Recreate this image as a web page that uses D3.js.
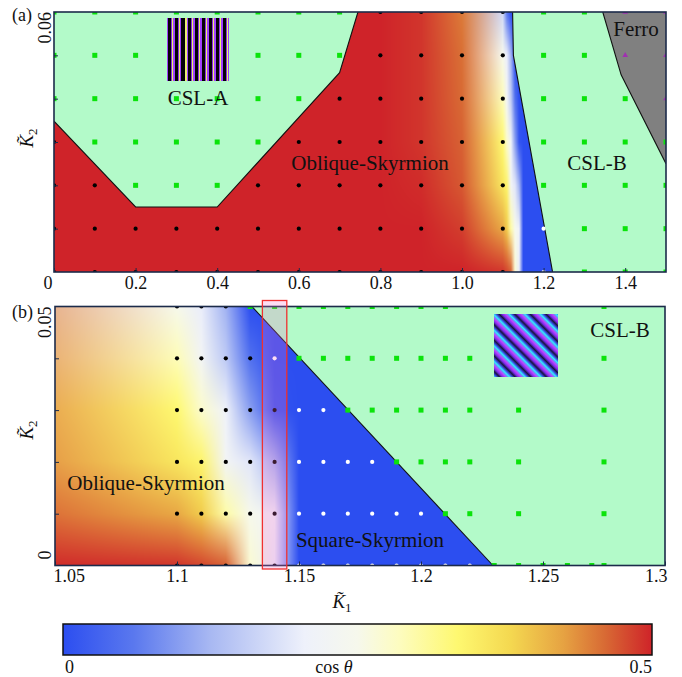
<!DOCTYPE html>
<html>
<head>
<meta charset="utf-8">
<script src="https://cdn.jsdelivr.net/npm/d3@7"></script>
<style>
body { margin: 0; background: #fff; }
svg { display: block; font-family: "Liberation Serif", "Times New Roman", serif; }
</style>
</head>
<body>
<svg id="chart" width="682" height="677"></svg>
<script>
// ---------- data ----------
// cos(theta) of the skyrmion phases on a (K1, K2) grid, rows follow fieldK2
var fieldK1 = [0, 0.7, 0.8, 0.9, 1.0, 1.1, 1.11, 1.12, 1.13, 1.14, 1.15, 1.5]
var fieldK2 = [0, 0.01, 0.02, 0.03, 0.04, 0.05, 0.06]
var fieldCos = [
    [0.5, 0.5, 0.5, 0.5,  0.5,   0.49,  0.48,  0.465, 0.27, 0.2,  0, 0],
    [0.5, 0.5, 0.5, 0.5,  0.485, 0.42,  0.39,  0.3,   0.25, 0.21, 0, 0],
    [0.5, 0.5, 0.5, 0.495, 0.47, 0.36,  0.34,  0.225, 0.19, 0.12, 0, 0],
    [0.5, 0.5, 0.5, 0.49, 0.465, 0.335, 0.275, 0.21,  0.1,  0.01, 0, 0],
    [0.5, 0.5, 0.5, 0.49, 0.46,  0.29,  0.225, 0.15,  0.05, 0,    0, 0],
    [0.5, 0.5, 0.5, 0.49, 0.457, 0.25,  0.2,   0.12,  0,    0,    0, 0],
    [0.5, 0.5, 0.5, 0.49, 0.45,  0.17,  0.06,  0,     0,    0,    0, 0]
]

// phase boundaries
var cslA = [[0, 0.06], [0, 0.0348], [0.2, 0.015], [0.4, 0.015], [0.7, 0.046], [0.745, 0.06]]
var cslBa = [[1.124, 0.06], [1.126, 0.05], [1.222, 0], [1.5, 0], [1.5, 0.06]]
var ferro = [[1.345, 0.06], [1.39, 0.0455], [1.5, 0.025], [1.5, 0.06]]
var cslBb = [[1.1307, 0.05], [1.2295, 0], [1.3, 0], [1.3, 0.05]]

// simulated points: O oblique-skyrmion, S square-skyrmion, G CSL, F ferro, . none
var aK1 = [0, 0.1, 0.2, 0.3, 0.4, 0.5, 0.6, 0.7, 0.8, 0.9, 1.0, 1.1, 1.2, 1.3, 1.4, 1.5]
var aK2 = [0.06, 0.05, 0.04, 0.03, 0.02, 0.01, 0]
var aPhase = [
    "GGGGGGGGOOOOGGFF",
    "GGGGGGGGOOOOGGFF",
    "GGGGGGGOOOOOGGGF",
    "OGGGGGOOOOOOGGGG",
    "OOGGGOOOOOOOGGGG",
    "OOOOOOOOOOOOSGGG",
    "OOOOOOOOOOOOSGGG"
]
var bK1 = [1.10, 1.11, 1.12, 1.13, 1.14, 1.15, 1.16, 1.17, 1.18, 1.19, 1.20, 1.21, 1.22, 1.23, 1.24, 1.25, 1.26, 1.27, 1.275]
var bK2 = [0.05, 0.04, 0.03, 0.02, 0.01, 0]
var bPhase = [
    "OOOGGGGGGGGG......G",
    "OOOOSGGGGGGGG.....G",
    "OOOOOSSGGGGGG.G...G",
    "OOOOOSSSSGGGG.G...G",
    "OOOOOSSSSSSGG.G...G",
    "OOOOOSSSSSSSSGGGGGG"
]

var aTicks = [0, 0.2, 0.4, 0.6, 0.8, 1.0, 1.2, 1.4]
var bTicks = [1.05, 1.1, 1.15, 1.2, 1.25, 1.3]
var highlight = [1.135, 1.145]

// colour map of cos(theta)
var cmapStops = [0, 0.06, 0.125, 0.205, 0.25, 0.285, 0.335, 0.38, 0.425, 0.46, 0.5]
var cmapColors = ["#2c4ef0", "#5a78ee", "#a8b8f2", "#eef1fb", "#f6f8ec", "#fdfcc0",
                  "#fef870", "#f4d850", "#e6a242", "#d86a34", "#cf2329"]

// ---------- setup ----------
var svg = d3.select("#chart")
var defs = svg.append("defs")
var cmap = d3.scaleLinear().domain(cmapStops).range(cmapColors).interpolate(d3.interpolateRgb).clamp(true)
var green = "#b3fac9"
var frameColor = "#1c2b4a"

var xA = d3.scaleLinear().domain([0, 1.5]).range([54, 666])
var yA = d3.scaleLinear().domain([0, 0.06]).range([272, 12])
var xB = d3.scaleLinear().domain([1.05, 1.3]).range([55, 665])
var yB = d3.scaleLinear().domain([0, 0.05]).range([565.5, 306.5])

function paintField(g, xs, ys) {
    var x0 = xs.range()[0], yTop = ys.range()[1]
    var w = Math.round(xs.range()[1] - x0), h = Math.round(ys.range()[0] - yTop)
    var canvas = document.createElement("canvas")
    canvas.width = w
    canvas.height = h
    var ctx = canvas.getContext("2d")
    var img = ctx.createImageData(w, h)
    var nodes = fieldCos.map(function(row){ return row.map(function(v){ return d3.rgb(cmap(v)) }) })
    var ch = ["r", "g", "b"]
    for (var py = 0; py < h; py++) {
        var k2 = ys.invert(yTop + py + 0.5)
        var j = Math.max(0, Math.min(fieldK2.length - 2, d3.bisectRight(fieldK2, k2) - 1))
        var fy = Math.max(0, Math.min(1, (k2 - fieldK2[j]) / (fieldK2[j + 1] - fieldK2[j])))
        for (var px = 0; px < w; px++) {
            var k1 = xs.invert(x0 + px + 0.5)
            var i = Math.max(0, Math.min(fieldK1.length - 2, d3.bisectRight(fieldK1, k1) - 1))
            var fx = Math.max(0, Math.min(1, (k1 - fieldK1[i]) / (fieldK1[i + 1] - fieldK1[i])))
            var c00 = nodes[j][i], c10 = nodes[j][i + 1], c01 = nodes[j + 1][i], c11 = nodes[j + 1][i + 1]
            var o = (py * w + px) * 4
            for (var c = 0; c < 3; c++) {
                var a = c00[ch[c]] * (1 - fx) + c10[ch[c]] * fx
                var b = c01[ch[c]] * (1 - fx) + c11[ch[c]] * fx
                img.data[o + c] = a * (1 - fy) + b * fy
            }
            img.data[o + 3] = 255
        }
    }
    ctx.putImageData(img, 0, 0)
    g.append("image")
        .attr("x", x0).attr("y", yTop)
        .attr("width", w).attr("height", h)
        .attr("preserveAspectRatio", "none")
        .attr("href", canvas.toDataURL())
}

function drawRegion(g, xs, ys, poly, fill, edge) {
    var line = d3.line().x(function(d){ return xs(d[0]) }).y(function(d){ return ys(d[1]) })
    g.append("path").attr("d", line(poly) + "Z").attr("fill", fill)
    g.append("path").attr("d", line(edge)).attr("fill", "none")
        .attr("stroke", "#111").attr("stroke-width", 1.1)
}

function drawPoints(g, xs, ys, cols, rows, phases) {
    var pts = []
    phases.forEach(function(s, r){
        s.split("").forEach(function(p, c){
            if (p != ".") pts.push({k1: cols[c], k2: rows[r], p: p})
        })
    })
    g.selectAll("rect.csl").data(pts.filter(function(d){ return d.p == "G" }))
        .enter().append("rect")
        .attr("x", function(d){ return xs(d.k1) - 2.5 })
        .attr("y", function(d){ return ys(d.k2) - 2.5 })
        .attr("width", 5).attr("height", 5)
        .attr("fill", "#0be30b")
    g.selectAll("circle.sk").data(pts.filter(function(d){ return d.p == "O" || d.p == "S" }))
        .enter().append("circle")
        .attr("cx", function(d){ return xs(d.k1) })
        .attr("cy", function(d){ return ys(d.k2) })
        .attr("r", 2.1)
        .attr("fill", function(d){ return d.p == "O" ? "#000" : "#fff" })
    g.selectAll("path.fm").data(pts.filter(function(d){ return d.p == "F" }))
        .enter().append("path")
        .attr("d", d3.symbol(d3.symbolTriangle, 14))
        .attr("transform", function(d){ return "translate(" + xs(d.k1) + "," + ys(d.k2) + ")" })
        .attr("fill", "#a030b0")
}

function panel(id, xs, ys) {
    var x0 = xs.range()[0], x1 = xs.range()[1], yt = ys.range()[1], yb = ys.range()[0]
    defs.append("clipPath").attr("id", id).append("rect")
        .attr("x", x0).attr("y", yt).attr("width", x1 - x0).attr("height", yb - yt)
    var g = svg.append("g")
    var inner = g.append("g").attr("clip-path", "url(#" + id + ")")
    return {g: g, inner: inner}
}

function frame(g, xs, ys) {
    var x0 = xs.range()[0], x1 = xs.range()[1], yt = ys.range()[1], yb = ys.range()[0]
    g.append("rect").attr("x", x0).attr("y", yt).attr("width", x1 - x0).attr("height", yb - yt)
        .attr("fill", "none").attr("stroke", frameColor).attr("stroke-width", 1.6)
}

function stripeGradient(id, x1, y1, x2, y2, stops) {
    var gr = defs.append("linearGradient").attr("id", id)
        .attr("gradientUnits", "userSpaceOnUse").attr("spreadMethod", "repeat")
        .attr("x1", x1).attr("y1", y1).attr("x2", x2).attr("y2", y2)
    stops.forEach(function(s){ gr.append("stop").attr("offset", s[0]).attr("stop-color", s[1]) })
}

function label(g, x, y, txt, size, anchor) {
    return g.append("text").attr("x", x).attr("y", y).attr("font-size", size)
        .attr("text-anchor", anchor || "start").attr("fill", "#111").text(txt)
}

function kLabel(g, sub, transform) {
    var t = g.append("text").attr("transform", transform).attr("text-anchor", "middle")
        .attr("font-size", 19).attr("fill", "#111")
    t.append("tspan").attr("font-style", "italic").text("K\u0303")
    t.append("tspan").attr("font-size", 13).attr("dy", 4).text(sub)
}

// ---------- panel (a) ----------
var pa = panel("clipA", xA, yA)
paintField(pa.inner, xA, yA)
drawRegion(pa.inner, xA, yA, cslA, green, cslA.slice(1))
drawRegion(pa.inner, xA, yA, cslBa, green, cslBa.slice(0, 3))
drawRegion(pa.inner, xA, yA, ferro, "#808080", ferro.slice(0, 3))
drawPoints(pa.inner, xA, yA, aK1, aK2, aPhase)

stripeGradient("stripeA", 167, 0, 173.9, 0, [
    [0, "#a040ff"], [0.1, "#a040ff"], [0.1, "#050208"], [0.55, "#050208"],
    [0.55, "#8a2ee0"], [0.68, "#8a2ee0"], [0.68, "#e8f070"], [0.84, "#e8f070"],
    [0.84, "#a040ff"], [1, "#a040ff"]])
pa.g.append("rect").attr("x", 167).attr("y", 18).attr("width", 62).attr("height", 63)
    .attr("fill", "url(#stripeA)")

label(pa.g, 198, 105, "CSL-A", 21, "middle")
label(pa.g, 370, 170, "Oblique-Skyrmion", 21, "middle")
label(pa.g, 597, 170, "CSL-B", 21, "middle")
label(pa.g, 636, 36, "Ferro", 21, "middle")

var axA = pa.g.append("g").attr("transform", "translate(0," + yA.range()[0] + ")")
    .call(d3.axisBottom(xA).tickValues(aTicks).tickSizeInner(-4).tickSizeOuter(0).tickPadding(4)
        .tickFormat(function(d){ return d === 0 ? "0" : d3.format(".1f")(d) }))
axA.select(".domain").remove()
axA.selectAll("text").attr("font-size", 18).attr("font-family", "Liberation Serif").attr("fill", "#111")
axA.selectAll(".tick").filter(function(d){ return d === 0 }).select("text").attr("text-anchor", "end").attr("x", -2)
axA.selectAll("line").attr("stroke", frameColor)
var ayA = pa.g.append("g").attr("transform", "translate(" + xA.range()[0] + ",0)")
    .call(d3.axisLeft(yA).tickValues([0.01, 0.02, 0.03, 0.04, 0.05]).tickSizeInner(-4).tickSizeOuter(0).tickFormat(""))
ayA.select(".domain").remove()
ayA.selectAll("line").attr("stroke", frameColor)
frame(pa.g, xA, yA)
pa.g.append("text").attr("transform", "translate(51," + yA(0.06) + ") rotate(-90)")
    .attr("text-anchor", "end").attr("font-size", 18).attr("fill", "#111").text("0.06")
kLabel(pa.g, "2", "translate(33,138) rotate(-90)")
label(pa.g, 12, 21, "(a)", 18)

// ---------- panel (b) ----------
var pb = panel("clipB", xB, yB)
paintField(pb.inner, xB, yB)
drawRegion(pb.inner, xB, yB, cslBb, green, cslBb.slice(0, 2))
drawPoints(pb.inner, xB, yB, bK1, bK2, bPhase)

stripeGradient("stripeB", 494, 377, 501.8, 369.2, [
    [0, "#30f0ff"], [0.18, "#3a48e0"], [0.36, "#14143c"], [0.55, "#7a2ee8"],
    [0.75, "#c040ff"], [0.9, "#60a0f8"], [1, "#30f0ff"]])
pb.g.append("rect").attr("x", 494).attr("y", 314).attr("width", 64).attr("height", 63)
    .attr("fill", "url(#stripeB)")

label(pb.g, 620, 337, "CSL-B", 21, "middle")
label(pb.g, 146, 490, "Oblique-Skyrmion", 21, "middle")
label(pb.g, 370, 547, "Square-Skyrmion", 21, "middle")

var axB = pb.g.append("g").attr("transform", "translate(0," + yB.range()[0] + ")")
    .call(d3.axisBottom(xB).tickValues(bTicks).tickSizeInner(-4).tickSizeOuter(0).tickPadding(4)
        .tickFormat(function(d){ return String(d) }))
axB.select(".domain").remove()
axB.selectAll("text").attr("font-size", 18).attr("font-family", "Liberation Serif").attr("fill", "#111")
axB.selectAll(".tick").filter(function(d){ return d === bTicks[0] }).select("text").attr("text-anchor", "start").attr("x", -2)
axB.selectAll(".tick").filter(function(d){ return d === bTicks[bTicks.length - 1] }).select("text").attr("text-anchor", "end").attr("x", 2)
axB.selectAll("line").attr("stroke", frameColor)
var ayB = pb.g.append("g").attr("transform", "translate(" + xB.range()[0] + ",0)")
    .call(d3.axisLeft(yB).tickValues([0.01, 0.02, 0.03, 0.04]).tickSizeInner(-4).tickSizeOuter(0).tickFormat(""))
ayB.select(".domain").remove()
ayB.selectAll("line").attr("stroke", frameColor)
frame(pb.g, xB, yB)

// highlighted column
pb.g.append("rect")
    .attr("x", xB(highlight[0])).attr("y", yB.range()[1] - 6)
    .attr("width", xB(highlight[1]) - xB(highlight[0])).attr("height", yB.range()[0] - yB.range()[1] + 9.5)
    .attr("fill", "rgba(246,113,203,0.24)").attr("stroke", "#f03030").attr("stroke-width", 1.3)

pb.g.append("text").attr("transform", "translate(51," + yB(0.05) + ") rotate(-90)")
    .attr("text-anchor", "end").attr("font-size", 18).attr("fill", "#111").text("0.05")
pb.g.append("text").attr("transform", "translate(51,555) rotate(-90)")
    .attr("text-anchor", "middle").attr("font-size", 18).attr("fill", "#111").text("0")
kLabel(pb.g, "2", "translate(33,430) rotate(-90)")
label(pb.g, 12, 318, "(b)", 18)
kLabel(pb.g, "1", "translate(342,608)")

// ---------- colour bar ----------
var cbX = d3.scaleLinear().domain([0, 0.5]).range([63, 652])
var cg = defs.append("linearGradient").attr("id", "cbar")
cmapStops.forEach(function(s, i){
    cg.append("stop").attr("offset", (cbX(s) - 63) / (652 - 63)).attr("stop-color", cmapColors[i])
})
svg.append("rect").attr("x", cbX(0)).attr("y", 624).attr("width", cbX(0.5) - cbX(0)).attr("height", 31)
    .attr("fill", "url(#cbar)").attr("stroke", "#111").attr("stroke-width", 1.5)
label(svg, cbX(0) + 2, 673, "0", 18)
label(svg, cbX(0.5), 673, "0.5", 18, "end")
var ct = svg.append("text").attr("x", 334).attr("y", 673).attr("text-anchor", "middle")
    .attr("font-size", 18).attr("fill", "#111")
ct.append("tspan").text("cos ")
ct.append("tspan").attr("font-style", "italic").text("\u03b8")
</script>
</body>
</html>
